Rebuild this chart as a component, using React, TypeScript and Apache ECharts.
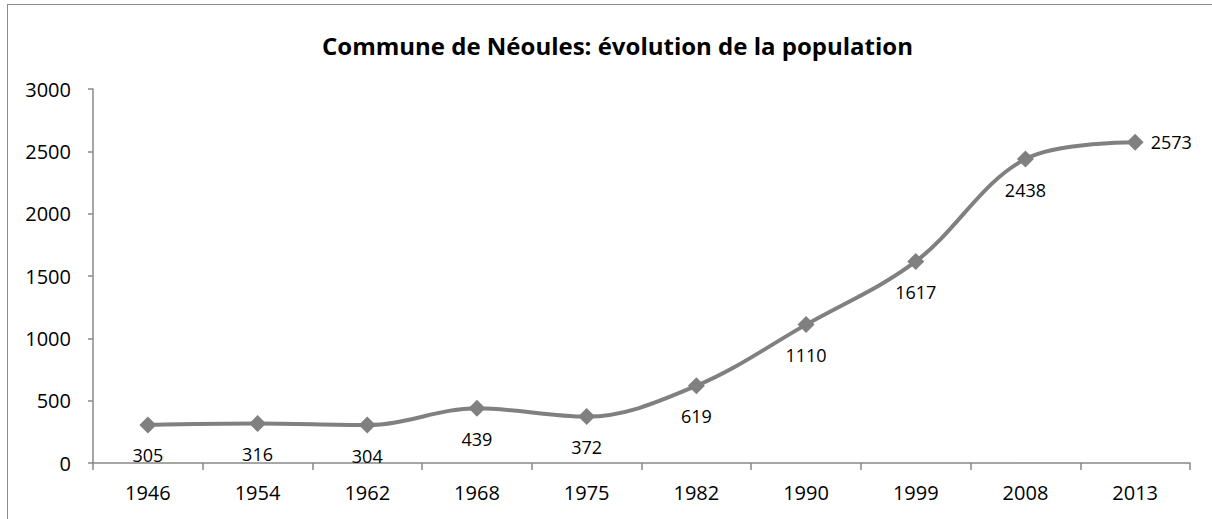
import React, { useEffect, useRef } from "react";
import * as echarts from "echarts";

const years = ["1946", "1954", "1962", "1968", "1975", "1982", "1990", "1999", "2008", "2013"];
const population = [305, 316, 304, 439, 372, 619, 1110, 1617, 2438, 2573];
const titleText = "Commune de Néoules: évolution de la population";

const FONT = "'Open Sans', 'Liberation Sans', sans-serif";

export default function App() {
  const ref = useRef<HTMLDivElement>(null);
  useEffect(() => {
    document.body.style.margin = "0";
    document.body.style.overflow = "hidden";
    if (!ref.current) return;
    const chart = echarts.init(ref.current, null, { renderer: "svg" });
    chart.setOption({
      animation: false,
      backgroundColor: "transparent",
      title: {
        text: titleText,
        left: 317,
        top: 28,
        textStyle: { fontFamily: FONT, fontSize: 24, fontWeight: "bold", color: "#000" },
      },
      grid: { left: 93, top: 89, right: 22, bottom: 56 },
      xAxis: {
        type: "category",
        data: years,
        boundaryGap: true,
        axisLine: { lineStyle: { color: "#888888", width: 1.5 } },
        axisTick: { show: true, length: 7, lineStyle: { color: "#888888", width: 1.5 } },
        axisLabel: { fontFamily: FONT, fontSize: 20, color: "#000", margin: 19 },
        splitLine: { show: false },
      },
      yAxis: {
        type: "value",
        min: 0,
        max: 3000,
        interval: 500,
        axisLine: { show: true, lineStyle: { color: "#888888", width: 1.5 } },
        axisTick: { show: true, length: 5, lineStyle: { color: "#888888", width: 1.5 } },
        axisLabel: {
          fontFamily: FONT,
          fontSize: 20,
          color: "#000",
          margin: 22,
          formatter: (v: number) => String(v),
        },
        splitLine: { show: false },
      },
      series: [
        {
          type: "line",
          data: population.map((v, i) => ({
            value: v,
            label: i === population.length - 1 ? { position: "right", distance: 7 } : undefined,
          })),
          smooth: 0.35,
          symbol: "diamond",
          symbolSize: 17,
          itemStyle: { color: "#808080" },
          lineStyle: { color: "#808080", width: 4 },
          label: {
            show: true,
            position: "bottom",
            distance: 13,
            fontFamily: FONT,
            fontSize: 18,
            color: "#000",
          },
        },
      ],
    });
    return () => chart.dispose();
  }, []);
  return (
    <div
      style={{
        position: "relative",
        width: 1212,
        height: 519,
        overflow: "hidden",
        background: "#ffffff",
      }}
    >
      <div
        style={{
          position: "absolute",
          left: 7,
          top: 4,
          width: 1400,
          height: 700,
          borderTop: "1.5px solid #8c8c8c",
          borderLeft: "1.5px solid #8c8c8c",
        }}
      />
      <div ref={ref} style={{ position: "absolute", left: 0, top: 0, width: 1212, height: 519 }} />
    </div>
  );
}
